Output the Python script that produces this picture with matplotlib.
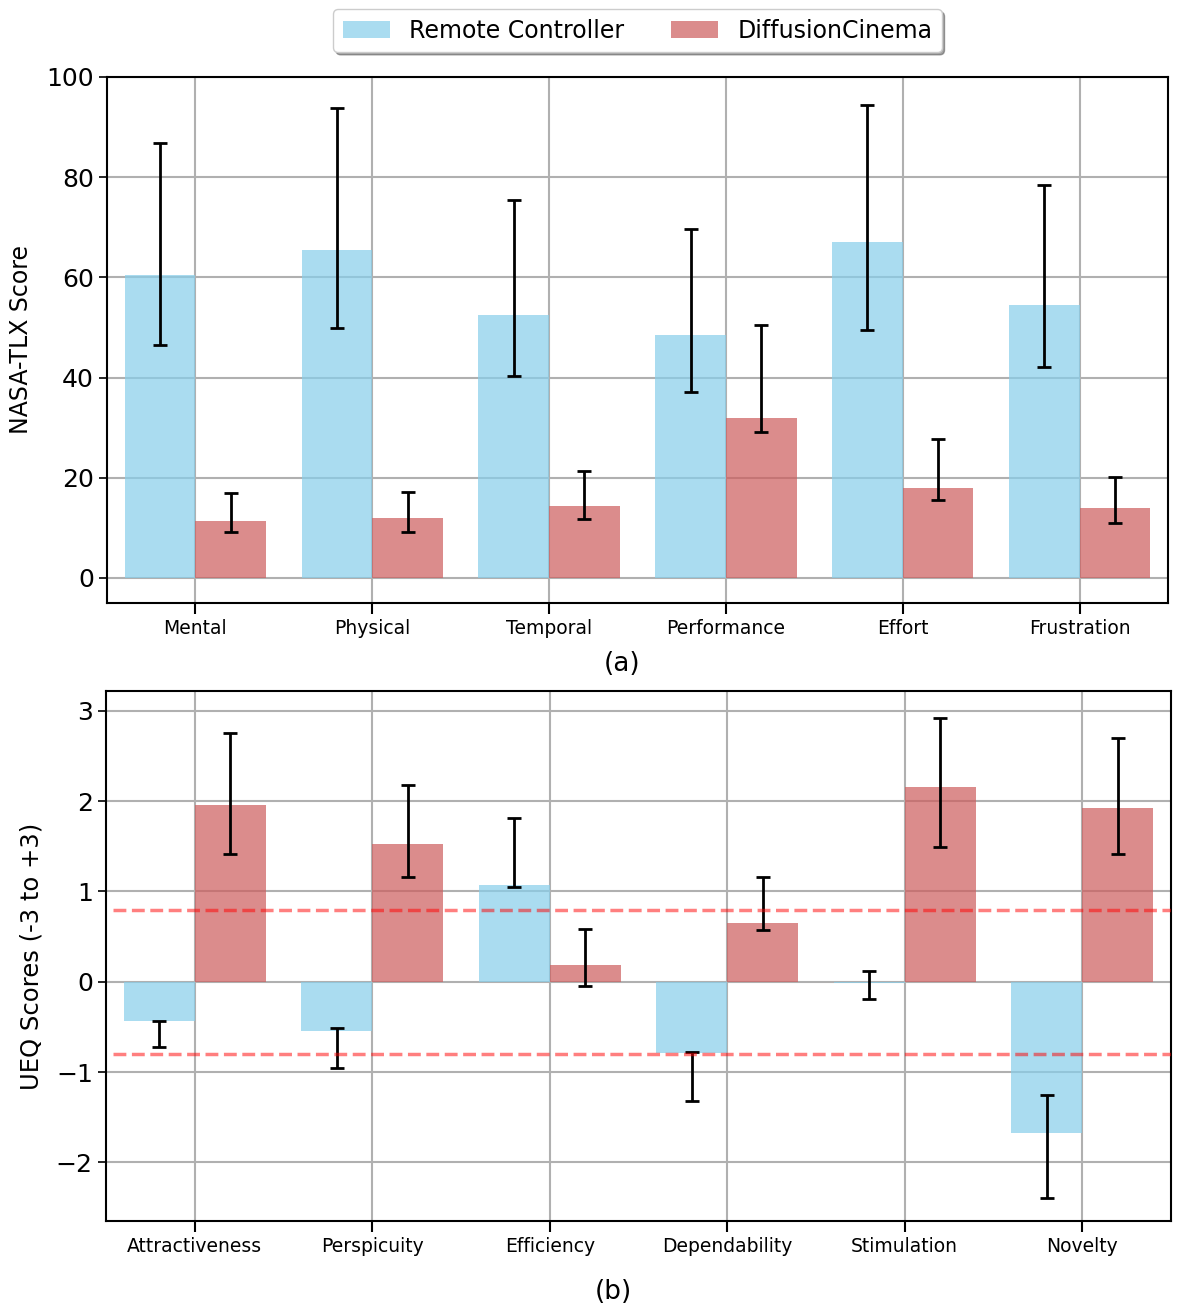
import matplotlib.pyplot as plt
import numpy as np

# NASA-TLX (a)
tlx_dims = ['Mental', 'Physical', 'Temporal', 'Performance', 'Effort', 'Frustration']
tlx_rc = [60.5, 65.5, 52.5, 48.5, 67.1, 54.5]
tlx_rc_lo = [46.5, 49.9, 40.3, 37.1, 49.5, 42.1]
tlx_rc_hi = [86.8, 93.8, 75.4, 69.7, 94.4, 78.4]
tlx_dc = [11.4, 12.0, 14.4, 31.9, 18.0, 14.0]
tlx_dc_lo = [9.2, 9.2, 11.8, 29.1, 15.6, 11.0]
tlx_dc_hi = [17.0, 17.2, 21.4, 50.5, 27.7, 20.2]

# UEQ (b)
ueq_dims = ['Attractiveness', 'Perspicuity', 'Efficiency', 'Dependability', 'Stimulation', 'Novelty']
ueq_rc = [-0.44, -0.55, 1.07, -0.79, -0.013, -1.68]
ueq_rc_lo = [-0.72, -0.96, 1.05, -1.32, -0.19, -2.39]
ueq_rc_hi = [-0.43, -0.51, 1.81, -0.78, 0.12, -1.25]
ueq_dc = [1.96, 1.52, 0.19, 0.65, 2.16, 1.92]
ueq_dc_lo = [1.42, 1.16, -0.05, 0.57, 1.49, 1.41]
ueq_dc_hi = [2.75, 2.18, 0.58, 1.16, 2.92, 2.70]
ueq_thresh = [0.8, -0.8]

rc_color = 'skyblue'
dc_color = 'indianred'
w = 0.4


def draw(ax, dims, rc, rc_lo, rc_hi, dc, dc_lo, dc_hi):
    x = np.arange(len(dims))
    rc = np.array(rc)
    dc = np.array(dc)
    ax.bar(x - w / 2, rc, w, color=rc_color, alpha=0.7, label='Remote Controller', zorder=2)
    ax.bar(x + w / 2, dc, w, color=dc_color, alpha=0.7, label='DiffusionCinema', zorder=2)
    ax.errorbar(x - w / 2, rc, yerr=[rc - np.array(rc_lo), np.array(rc_hi) - rc],
                fmt='none', ecolor='black', elinewidth=2, capsize=5, capthick=2, zorder=4)
    ax.errorbar(x + w / 2, dc, yerr=[dc - np.array(dc_lo), np.array(dc_hi) - dc],
                fmt='none', ecolor='black', elinewidth=2, capsize=5, capthick=2, zorder=4)
    ax.set_xticks(x)
    ax.set_xticklabels(dims, fontsize=13.5)
    ax.set_xlim(-0.5, len(dims) - 0.5)
    ax.grid(True, color='#b0b0b0', linewidth=1.5, zorder=3)
    ax.tick_params(axis='y', labelsize=18, length=6, width=1.2)
    ax.tick_params(axis='x', length=8, width=1.5)
    for s in ax.spines.values():
        s.set_linewidth(1.5)


fig = plt.figure(figsize=(11.82, 13.12), dpi=100)
ax1 = fig.add_axes([107 / 1182, 1 - 603 / 1312, 1061 / 1182, 526 / 1312])
ax2 = fig.add_axes([106 / 1182, 1 - 1221 / 1312, 1065 / 1182, 530 / 1312])

draw(ax1, tlx_dims, tlx_rc, tlx_rc_lo, tlx_rc_hi, tlx_dc, tlx_dc_lo, tlx_dc_hi)
ax1.set_ylim(-5, 100)
ax1.set_yticks([0, 20, 40, 60, 80, 100])
ax1.set_ylabel('NASA-TLX Score', fontsize=17)
ax1.yaxis.set_label_coords(-0.070, 0.5)

draw(ax2, ueq_dims, ueq_rc, ueq_rc_lo, ueq_rc_hi, ueq_dc, ueq_dc_lo, ueq_dc_hi)
ax2.set_ylim(-2.65, 3.22)
ax2.set_yticks([-2, -1, 0, 1, 2, 3])
ax2.set_ylabel('UEQ Scores (-3 to +3)', fontsize=17.5)
ax2.yaxis.set_label_coords(-0.059, 0.5)
for t in ueq_thresh:
    ax2.hlines(t, -0.46, 5.5, colors='red', linestyles='--', linewidth=2.5, alpha=0.5, zorder=5)

leg = ax1.legend(loc='lower center', bbox_to_anchor=(0.5, 1.025), ncol=2, fontsize=17,
                 shadow=True, frameon=True, handlelength=2.0, columnspacing=2.0)

fig.text(622 / 1182, 1 - 664 / 1312, '(a)', fontsize=19, ha='center', va='center')
fig.text(613 / 1182, 1 - 1292 / 1312, '(b)', fontsize=19, ha='center', va='center')

fig.savefig('out.png', dpi=100)
